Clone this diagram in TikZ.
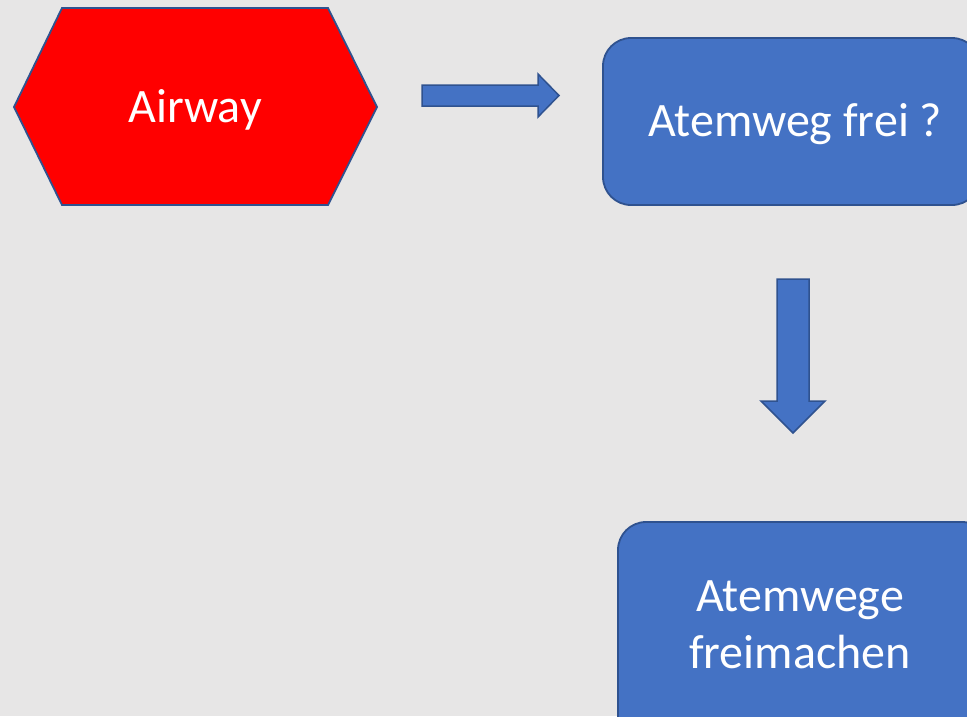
\documentclass[tikz,border=0pt]{standalone}
\usepackage{fontspec}
\setmainfont{Carlito}
\definecolor{bgc}{HTML}{E7E6E6}
\definecolor{boxblue}{HTML}{4472C4}
\definecolor{edgeblue}{HTML}{2F528F}
\definecolor{hexred}{HTML}{FF0000}
\begin{document}
\begin{tikzpicture}[x=1pt,y=-1pt,
  shapeline/.style={draw=edgeblue,line width=1.8pt,line join=miter},
  bluebox/.style={shapeline,fill=boxblue,rounded corners=28pt},
  blockarrow/.style={draw=edgeblue,line width=1.5pt,fill=boxblue,line join=miter},
  label/.style={text=white,font=\fontsize{48}{57}\selectfont,align=center,inner sep=0pt}]
\useasboundingbox (0,0) rectangle (967,716);
\clip (0,0) rectangle (967,716);
\fill[bgc] (0,0) rectangle (967,716);
% hexagon
\draw[shapeline,fill=hexred] (14,107) -- (62,8) -- (328,8) -- (377,107) -- (328,205) -- (62,205) -- cycle;
\node[label] (airway) at (195,110) {Airway};
% boxes
\draw[bluebox] (603,38) rectangle (980,205);
\node[label] (q) at (795,124) {Atemweg frei ?};
\draw[bluebox] (618,522) rectangle (990,750);
\node[label] (act) at (800,625) {Atemwege\\freimachen};
% right arrow
\draw[blockarrow] (422,85) -- (538,85) -- (538,74) -- (559,95.5) -- (538,117) -- (538,106) -- (422,106) -- cycle;
% down arrow
\draw[blockarrow] (777,279) -- (809,279) -- (809,401) -- (825,401) -- (793,433) -- (761,401) -- (777,401) -- cycle;
\end{tikzpicture}
\end{document}
